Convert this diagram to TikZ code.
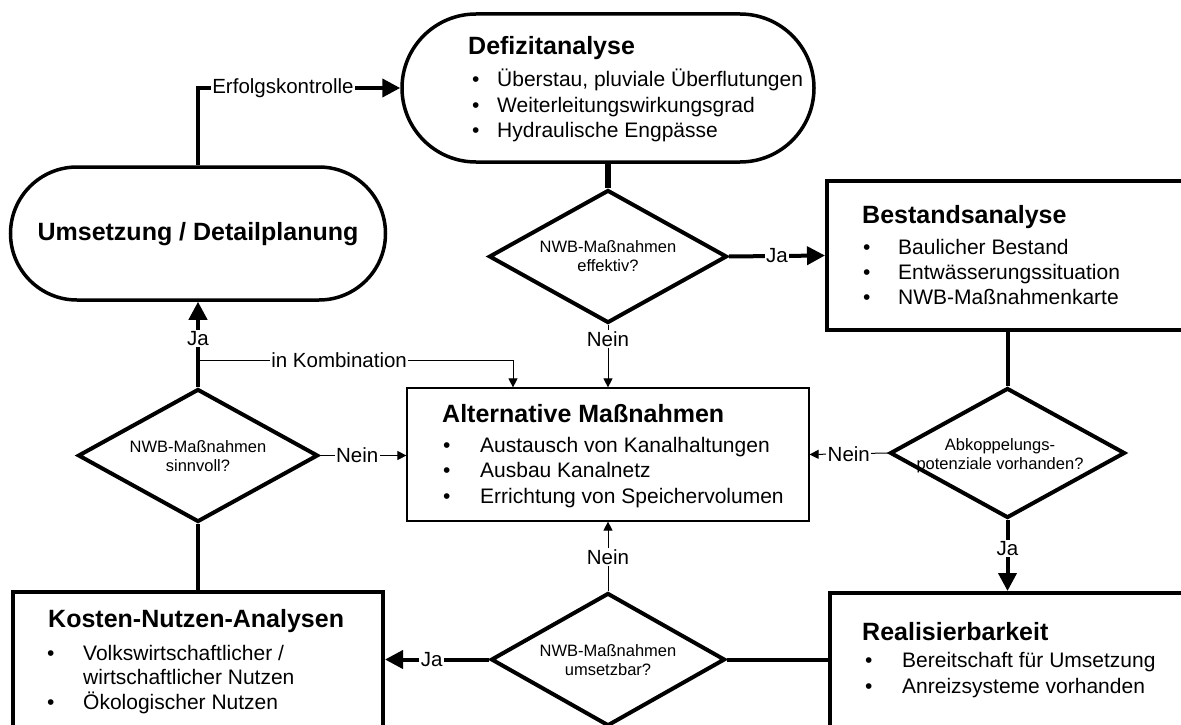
\documentclass[tikz,border=0pt]{standalone}
\usepackage{fontspec}
\setmainfont{Liberation Sans}
\usetikzlibrary{shapes.geometric,shapes.misc,arrows.meta}
\begin{document}
\begin{tikzpicture}[x=1pt,y=-1pt]
\tikzset{
 stad/.style={draw, line width=3.5pt, shape=rounded rectangle, inner sep=0pt},
 bbox/.style={draw, line width=4pt, rectangle, inner sep=0pt},
 tbox/.style={draw, line width=1.2pt, rectangle, inner sep=0pt},
 dia/.style={draw, line width=4pt, shape=diamond, inner sep=0pt},
 ttl/.style={inner sep=0pt, anchor=base west, font=\fontsize{25}{30}\selectfont\bfseries},
 lst/.style={inner sep=0pt, anchor=base west, font=\fontsize{21}{25.5}\selectfont},
 dtxt/.style={inner sep=0pt, align=center, font=\fontsize{16.5}{19}\selectfont},
 lbl/.style={fill=white, inner sep=1.5pt, font=\fontsize{20.5}{24}\selectfont},
 thk/.style={line width=4pt},
 thn/.style={line width=1pt},
 bigarr/.style={-{Triangle[length=18pt,width=18pt]}},
 smarr/.style={-{Triangle[length=9pt,width=9pt]}},
}
\useasboundingbox (0,0) rectangle (1181,725);
\clip (0,0) rectangle (1181,725);

% boxes
\node[stad, minimum width=412pt, minimum height=148pt] (def) at (608,88) {};
\node[stad, minimum width=375pt, minimum height=133pt] (ums) at (198,233.5) {};
\node[bbox, minimum width=423pt, minimum height=149pt] (best) at (1038.5,255.5) {};
\node[tbox, minimum width=402pt, minimum height=133pt] (alt) at (608,454.5) {};
\node[bbox, minimum width=420pt, minimum height=207pt] (real) at (1040,696.5) {};
\node[bbox, minimum width=370pt, minimum height=208pt] (kna) at (198,696) {};

% diamonds
\node[dia, minimum width=238pt, minimum height=133pt] (d1) at (608,256.5) {};
\node[dia, minimum width=240pt, minimum height=133pt] (d2) at (198,455.5) {};
\node[dia, minimum width=235pt, minimum height=130pt] (d3) at (1007.5,453) {};
\node[dia, minimum width=234pt, minimum height=133pt] (d4) at (608,659.5) {};

% texts
\node[ttl] (deft) at (468,55) {Defizitanalyse};
\node[lst] (defl) at (472,87) {\begin{tabular}[t]{@{}p{25pt}@{}l@{}}\textbullet & Überstau, pluviale Überflutungen\\ \textbullet & Weiterleitungswirkungsgrad\\ \textbullet & Hydraulische Engpässe\end{tabular}};

\node[inner sep=0pt, font=\fontsize{25}{30}\selectfont\bfseries] (umst) at (198,234) {Umsetzung / Detailplanung};

\node[ttl] (bestt) at (862,223) {Bestandsanalyse};
\node[lst, font=\fontsize{21}{25}\selectfont] (bestl) at (863,254) {\begin{tabular}[t]{@{}p{35pt}@{}l@{}}\textbullet & Baulicher Bestand\\ \textbullet & Entwässerungssituation\\ \textbullet & NWB-Maßnahmenkarte\end{tabular}};

\node[ttl] (altt) at (442,422) {Alternative Maßnahmen};
\node[lst] (altl) at (443,452) {\begin{tabular}[t]{@{}p{37pt}@{}l@{}}\textbullet & Austausch von Kanalhaltungen\\ \textbullet & Ausbau Kanalnetz\\ \textbullet & Errichtung von Speichervolumen\end{tabular}};

\node[ttl] (realt) at (862,640) {Realisierbarkeit};
\node[lst, font=\fontsize{21}{26}\selectfont] (reall) at (865,667) {\begin{tabular}[t]{@{}p{37pt}@{}l@{}}\textbullet & Bereitschaft für Umsetzung\\ \textbullet & Anreizsysteme vorhanden\end{tabular}};

\node[ttl] (knat) at (48,627) {Kosten-Nutzen-Analysen};
\node[lst, font=\fontsize{21}{24.3}\selectfont] (knal) at (47,660) {\begin{tabular}[t]{@{}p{36pt}@{}l@{}}\textbullet & Volkswirtschaftlicher /\\ & wirtschaftlicher Nutzen\\ \textbullet & Ökologischer Nutzen\end{tabular}};

\node[dtxt] (d1t) at (608,256) {NWB-Maßnahmen\\effektiv?};
\node[dtxt] (d2t) at (198,456) {NWB-Maßnahmen\\sinnvoll?};
\node[dtxt] (d3t) at (1000,456) {Abkoppelungs-\\potenziale vorhanden?};
\node[dtxt] (d4t) at (608,660) {NWB-Maßnahmen\\umsetzbar?};

% connectors
\coordinate (kst) at (198,360);
\draw[thk, bigarr] (ums.north) |- node[lbl, pos=0.71] {Erfolgskontrolle} (def.west);
\draw[line width=6pt] (def.south) -- (d1.north);
\draw[thk, bigarr] (d1.east) -- node[lbl, pos=0.5] {Ja} (best.west);
\draw[thn, smarr] (d1.south) -- node[lbl, pos=0.23] {Nein} (alt.north);
\draw[thk] (d3.north |- best.south) -- (d3.north);
\draw[thn, smarr] (d3.west) -- node[lbl, pos=0.5] {Nein} (alt.east);
\draw[thk, bigarr] (d3.south) -- node[lbl, pos=0.4] {Ja} (d3.south |- real.north);
\draw[thk] (d4.east) -- (d4.east -| real.west);
\draw[thk, bigarr] (d4.west) -- node[lbl, pos=0.55] {Ja} (d4.west -| kna.east);
\draw[thn, smarr] (d4.north) -- node[lbl, pos=0.49] {Nein} (alt.south);
\draw[thk] (d2.south) -- (d2.south |- kna.north);
\draw[thn, smarr] (d2.east) -- node[lbl, pos=0.43] {Nein} (d2.east -| alt.west);
\draw[thk, bigarr] (d2.north) -- node[lbl, pos=0.57] {Ja} (ums.south);
\draw[thn, smarr] (kst) -| node[lbl, pos=0.224] {in Kombination} ([xshift=-95pt]alt.north);
\end{tikzpicture}
\end{document}
